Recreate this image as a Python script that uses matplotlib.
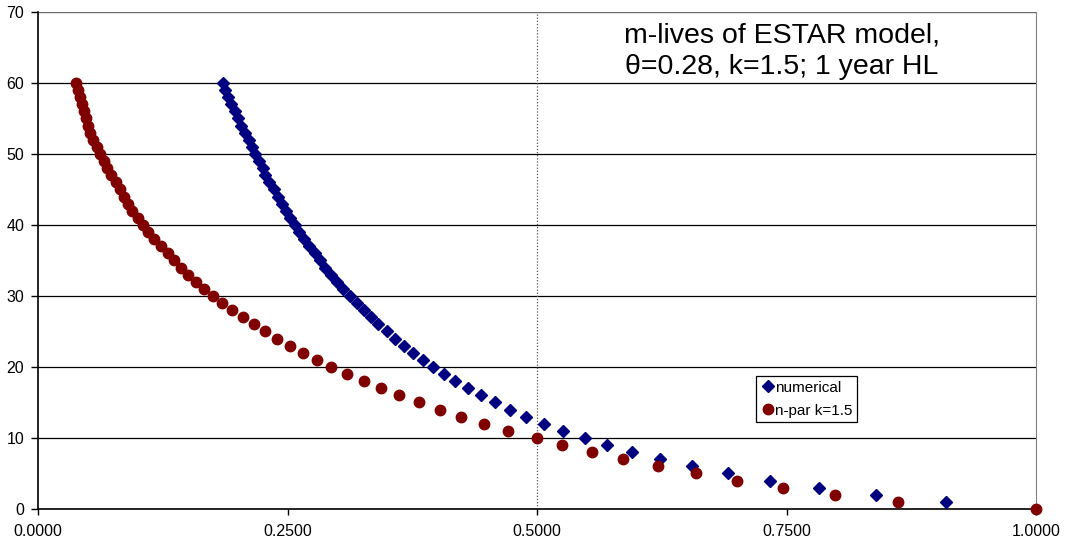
import numpy as np
import matplotlib
matplotlib.use("Agg")
import matplotlib.pyplot as plt

plt.rcParams['font.family'] = ['Liberation Sans', 'DejaVu Sans']

# numerical series: m-life value (y) against x
num_y = list(range(60, 0, -1))
num_x = [0.1857, 0.1877, 0.1901, 0.1937, 0.1971, 0.2003, 0.2036, 0.2070, 0.2110, 0.2142,
         0.2175, 0.2209, 0.2249, 0.2278, 0.2318, 0.2361, 0.2401, 0.2440, 0.2483, 0.2527,
         0.2573, 0.2619, 0.2666, 0.2719, 0.2772, 0.2825, 0.2880, 0.2937, 0.2997, 0.3056,
         0.3123, 0.3195, 0.3268, 0.3337, 0.3411, 0.3493, 0.3576, 0.3669, 0.3759, 0.3858,
         0.3957, 0.4066, 0.4182, 0.4308, 0.4437, 0.4579, 0.4728, 0.4891, 0.5069, 0.5264,
         0.5475, 0.5701, 0.5953, 0.6236, 0.6553, 0.6911, 0.7335, 0.7824, 0.8400, 0.9100]

# n-par k=1.5 series
npar_y = list(range(60, -1, -1))
npar_x = [0.0381, 0.0397, 0.0417, 0.0437, 0.0457, 0.0477, 0.0501, 0.0523, 0.0550, 0.0586,
          0.0623, 0.0656, 0.0695, 0.0735, 0.0779, 0.0818, 0.0858, 0.0904, 0.0944, 0.0997,
          0.1050, 0.1106, 0.1166, 0.1229, 0.1298, 0.1361, 0.1434, 0.1507, 0.1583, 0.1666,
          0.1755, 0.1847, 0.1947, 0.2050, 0.2159, 0.2275, 0.2394, 0.2520, 0.2652, 0.2795,
          0.2940, 0.3099, 0.3265, 0.3441, 0.3619, 0.3818, 0.4023, 0.4238, 0.4470, 0.4712,
          0.5000, 0.5249, 0.5549, 0.5865, 0.6216, 0.6593, 0.7005, 0.7467, 0.7982, 0.8612,
          1.0000]

xticks = [0.0, 0.25, 0.5, 0.75, 1.0]
xtick_labels = ["0.0000", "0.2500", "0.5000", "0.7500", "1.0000"]
yticks = list(range(0, 71, 10))

fig = plt.figure(figsize=(10.71, 5.42), dpi=100)
ax = fig.add_axes([0.0355, 0.061, 0.932, 0.917])

for y in yticks[1:]:
    ax.axhline(y, color="black", lw=0.9, zorder=1)
ax.axhline(70, color="#808080", lw=1.2, zorder=1)
ax.axvline(0.5, color="#555555", lw=0.9, ls=(0, (1, 1.5)), zorder=1)

ax.plot(num_x, num_y, ls="none", marker="D", ms=5.8, color="#000080",
        mec="#000080", label="numerical", zorder=3, clip_on=False)
ax.plot(npar_x, npar_y, ls="none", marker="o", ms=7.5, color="#800000",
        mec="#800000", label="n-par k=1.5", zorder=3, clip_on=False)

ax.set_xlim(0, 1)
ax.set_ylim(0, 70)
ax.set_xticks(xticks)
ax.set_xticklabels(xtick_labels)
ax.set_yticks(yticks)
ax.tick_params(axis="both", labelsize=11.5, direction="out", width=1)
ax.tick_params(axis="x", length=4, pad=7)
ax.tick_params(axis="y", length=5, pad=5)

for s in ["left", "bottom"]:
    ax.spines[s].set_color("black")
    ax.spines[s].set_linewidth(1.2)
ax.spines["top"].set_visible(False)
ax.spines["right"].set_color("#808080")

ax.text(0.745, 0.921, "m-lives of ESTAR model,\nθ=0.28, k=1.5; 1 year HL",
        transform=ax.transAxes, ha="center", va="center", fontsize=20.5,
        linespacing=1.3)

leg = ax.legend(loc="upper left", bbox_to_anchor=(0.7195, 0.2676), fontsize=11,
                frameon=True, fancybox=False, edgecolor="black", framealpha=1,
                handletextpad=0.05, handlelength=0.9, borderpad=0.3,
                labelspacing=0.6, borderaxespad=0)
leg.get_frame().set_linewidth(0.9)

fig.savefig("out.png", dpi=100)
